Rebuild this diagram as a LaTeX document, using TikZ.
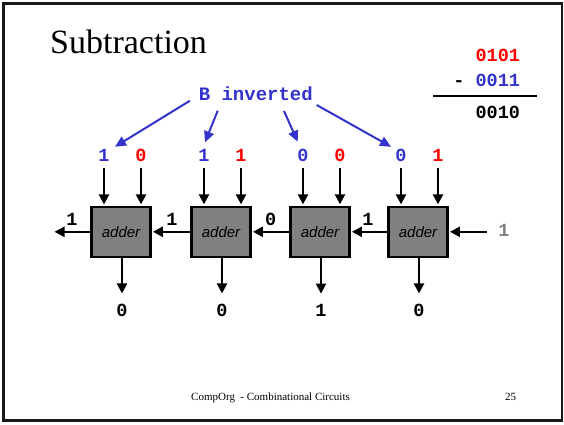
\documentclass[tikz,border=0pt]{standalone}
\usepackage{fontspec}
\setmainfont{Liberation Serif}
\setsansfont{Liberation Sans}
\setmonofont{Liberation Mono}
\usetikzlibrary{arrows.meta}
\definecolor{bitblue}{RGB}{51,51,204}
\definecolor{bitred}{RGB}{255,0,0}
\definecolor{cingray}{RGB}{128,128,128}
\definecolor{boxgray}{RGB}{128,128,128}
\begin{document}
\begin{tikzpicture}[x=1pt,y=-1pt,
  bit/.style={font=\fontsize{18.5}{18.5}\selectfont\ttfamily\bfseries, inner sep=0pt, anchor=base},
  adderbox/.style={draw=black, fill=boxgray, line width=2.5pt, minimum width=59pt,
    minimum height=50pt, inner sep=0pt, font=\fontsize{15}{15}\selectfont\sffamily\itshape},
  wire/.style={draw=black, line width=2.3pt, -{Triangle[length=10pt,width=10pt]}},
  bwire/.style={draw=bitblue, line width=2pt, -{Triangle[length=11pt,width=10pt]}},
  footer/.style={anchor=base west, inner sep=0pt, font=\fontsize{11}{11}\selectfont},
]
\useasboundingbox (0,0) rectangle (564,424);
% slide frame
\draw[line width=2.5pt, draw=black!90] (3.3,3.3) rectangle (562,420.5);

% title
\node[anchor=base west, inner sep=0pt, font=\fontsize{34}{34}\selectfont] (title) at (50,53.3) {Subtraction};

% worked example
\node[bit, text=bitred] (minuend) at (497.8,61.7) {0101};
\node[bit, text=bitblue] (subtrahend) at (497.8,86.7) {0011};
\node[bit] (minus) at (459,86.7) {-};
\coordinate (ruleL) at (433,95.7);
\coordinate (ruleR) at (536.7,95.7);
\draw[line width=2pt] (ruleL) -- (ruleR);
\node[bit] (difference) at (497.8,118.3) {0010};

% adder chain
\node[adderbox] (a1) at (121,231.8) {adder};
\node[adderbox] (a2) at (221,231.8) {adder};
\node[adderbox] (a3) at (320,231.8) {adder};
\node[adderbox] (a4) at (418,231.8) {adder};

% operand bits: inverted B (blue) and A (red)
\node[bit, text=bitblue] (b1) at (104,161.7) {1};
\node[bit, text=bitred]  (r1) at (141,161.7) {0};
\node[bit, text=bitblue] (b2) at (204,161.7) {1};
\node[bit, text=bitred]  (r2) at (241,161.7) {1};
\node[bit, text=bitblue] (b3) at (303,161.7) {0};
\node[bit, text=bitred]  (r3) at (340,161.7) {0};
\node[bit, text=bitblue] (b4) at (401,161.7) {0};
\node[bit, text=bitred]  (r4) at (438,161.7) {1};

\foreach \t/\a in {b1/a1,r1/a1,b2/a2,r2/a2,b3/a3,r3/a3,b4/a4,r4/a4}
  \draw[wire, shorten <=6.3pt, shorten >=1.2pt] (\t.south) -- (\t.south |- \a.north);

% sum bits
\node[bit] (s1) at (122,316) {0};
\node[bit] (s2) at (222,316) {0};
\node[bit] (s3) at (321,316) {1};
\node[bit] (s4) at (419,316) {0};
\foreach \a/\s in {a1/s1,a2/s2,a3/s3,a4/s4}
  \draw[wire, shorten >=10pt] (\s.north |- \a.south) -- (\s.north);

% carries
\coordinate (cout) at (53.3,231.8);
\coordinate (cinstart) at (486.7,231.8);
\draw[wire, shorten >=1.2pt] (a1.west) -- (cout);
\draw[wire, shorten >=1.2pt] (a2.west) -- (a1.east);
\draw[wire, shorten >=1.2pt] (a3.west) -- (a2.east);
\draw[wire, shorten >=1.2pt] (a4.west) -- (a3.east);
\draw[wire, shorten >=1.2pt] (cinstart) -- (a4.east);
\node[bit] (c0) at (72,225) {1};
\node[bit] (c1) at (172,225) {1};
\node[bit] (c2) at (270.7,225) {0};
\node[bit] (c3) at (368,225) {1};
\node[bit, text=cingray] (cin) at (504,236.7) {1};

% B inverted annotation
\node[bit, font=\fontsize{19}{19}\selectfont\ttfamily\bfseries, text=bitblue] (binv) at (255.8,100.7) {B inverted};
\draw[bwire] ([shift={(-65.8,0)}]binv.base) -- ([shift={(11,-15)}]b1.base);
\draw[bwire] ([shift={(-38.1,10)}]binv.base) -- ([shift={(1,-19.4)}]b2.base);
\draw[bwire] ([shift={(28.2,10.3)}]binv.base) -- ([shift={(-5.3,-20)}]b3.base);
\draw[bwire] ([shift={(60.9,4.3)}]binv.base) -- ([shift={(-10,-15)}]b4.base);

% footer
\node[footer] (foot) at (191,400) {CompOrg\ \ - Combinational Circuits};
\node[footer] (page) at (505,400) {25};
\end{tikzpicture}
\end{document}
